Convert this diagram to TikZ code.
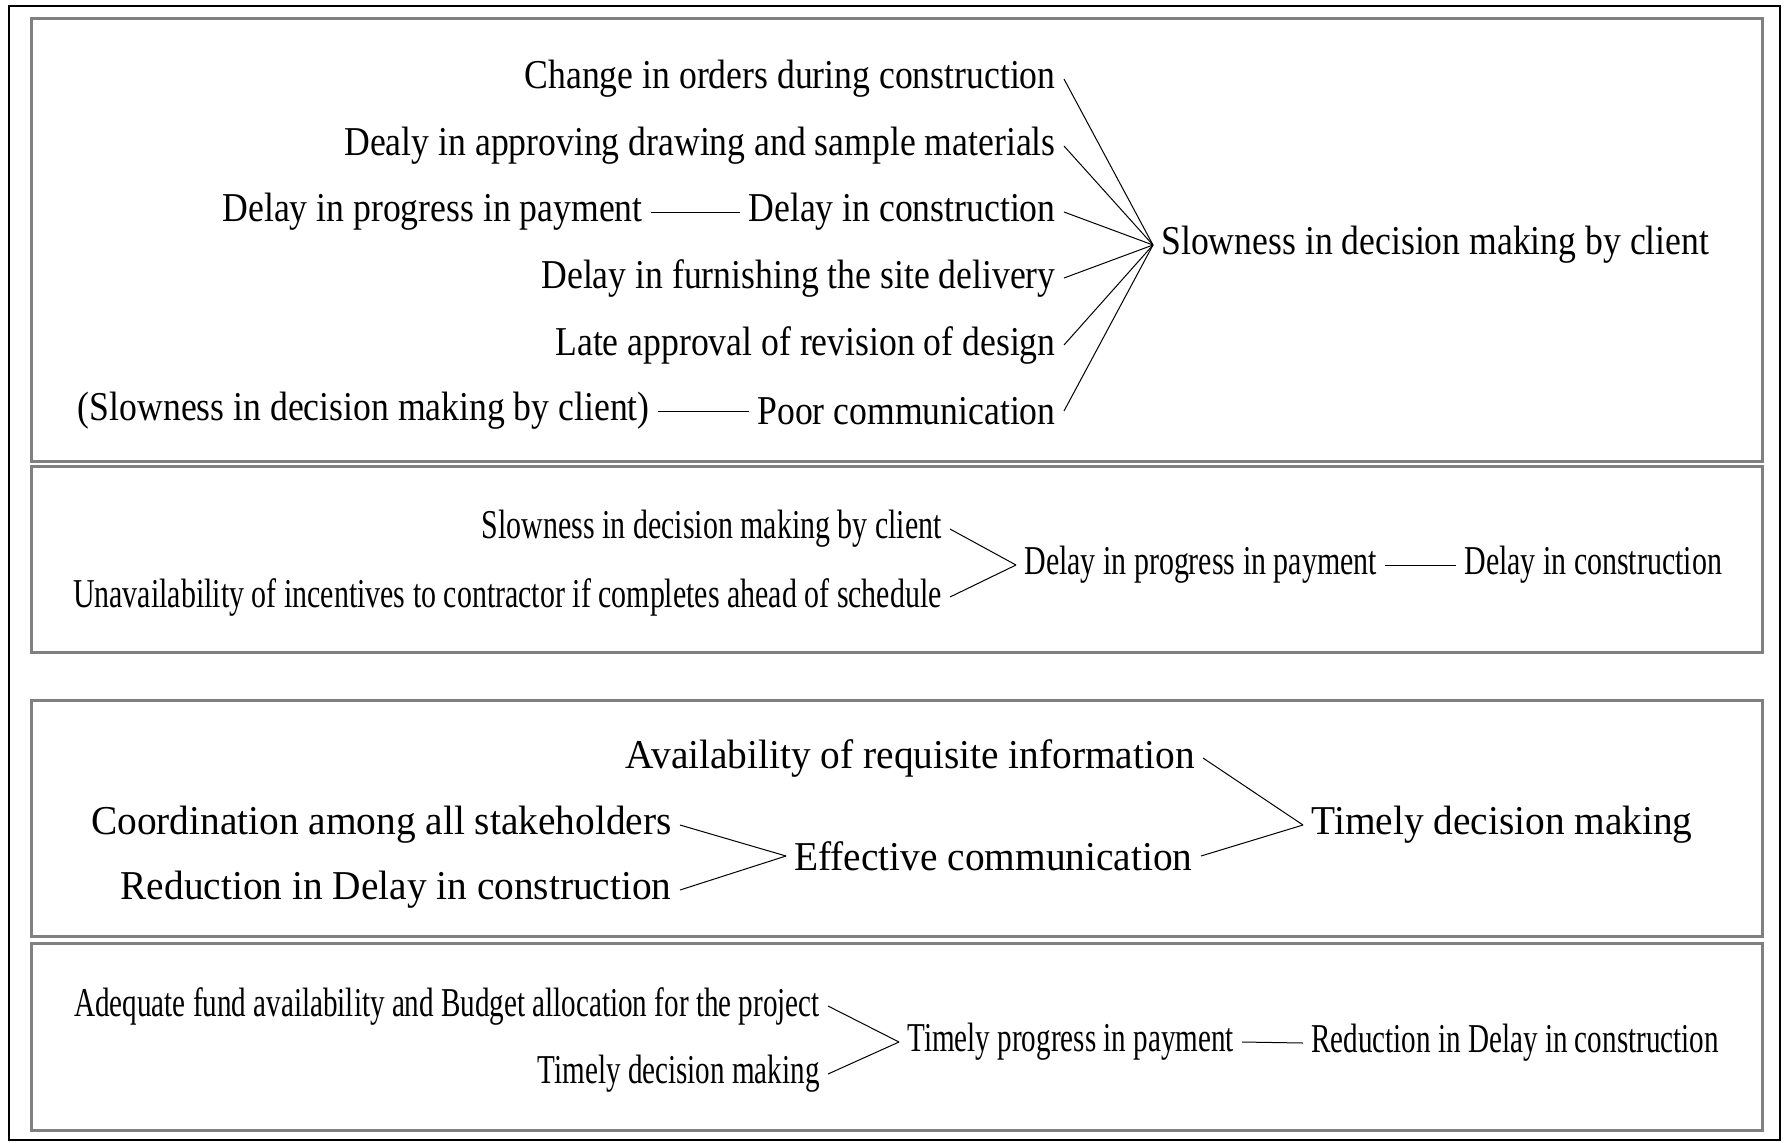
\documentclass[tikz,border=0pt]{standalone}
\usepackage{fontspec}
\setmainfont{Liberation Serif}
\newfontfamily\panelA[FakeStretch=0.87]{Liberation Serif}
\newfontfamily\panelB[FakeStretch=0.73]{Liberation Serif}
\newfontfamily\panelC[FakeStretch=0.96]{Liberation Serif}
\newfontfamily\panelD[FakeStretch=0.71]{Liberation Serif}
\newcommand\panelsize{\fontsize{20.5}{24}\selectfont}

\tikzset{
  cause/.style={anchor=east,inner xsep=4pt,inner ysep=1pt},
  effect/.style={anchor=west,inner xsep=4pt,inner ysep=1pt},
  panel/.style={draw=gray,line width=1.5pt},
  link/.style={draw=black,line width=0.5pt},
}

\begin{document}
\begin{tikzpicture}[x=0.5pt,y=-0.5pt]
	\useasboundingbox (0,0) rectangle (1784,1142);
	% outer frame and panels
	\draw [line width=1pt] (9,6) rectangle (1780,1140);
	\draw [panel] (31,18) rectangle (1762,461);
	\draw [panel] (31,466) rectangle (1762,652);
	\draw [panel] (31,700) rectangle (1762,936);
	\draw [panel] (31,943) rectangle (1762,1130);
	
	% panel 1
	\begin{scope}[nodes={font=\panelA\panelsize}]
	\node [cause] (chg) at (1064,79) {Change in orders during construction};
	\node [cause] (dly) at (1064,146) {Dealy in approving drawing and sample materials};
	\node [cause] (dic) at (1064,212) {Delay in construction};
	\node [cause] (dfs) at (1064,278) {Delay in furnishing the site delivery};
	\node [cause] (lad) at (1064,345) {Late approval of revision of design};
	\node [cause] (pc) at (1064,411) {Poor communication};
	\node [cause] (dpp) at (651,212) {Delay in progress in payment};
	\node [cause] (sdmp) at (658,411) {(Slowness in decision making by client)};
	\node [effect] (sdc) at (1153,245) {Slowness in decision making by client};
	\end{scope}
	\foreach \n in {chg,dly,dic,dfs,lad,pc}
		\draw [link] (\n.east) -- (sdc.west);
	\draw [link] (dpp.east) -- (dic.west);
	\draw [link] (sdmp.east) -- (pc.west);
	
	% panel 2
	\begin{scope}[nodes={font=\panelB\panelsize}]
	\node [cause] (sdc2) at (950,529) {Slowness in decision making by client};
	\node [cause] (uni) at (950,597) {Unavailability of incentives to contractor if completes ahead of schedule};
	\node [effect] (dpp2) at (1016,565) {Delay in progress in payment};
	\node [effect] (dic2) at (1456,565) {Delay in construction};
	\end{scope}
	\draw [link] (sdc2.east) -- (dpp2.west);
	\draw [link] (uni.east) -- (dpp2.west);
	\draw [link] (dpp2.east) -- (dic2.west);
	
	% panel 3
	\begin{scope}[nodes={font=\panelC\panelsize}]
	\node [cause] (avl) at (1203,758) {Availability of requisite information};
	\node [cause] (coo) at (680,825) {Coordination among all stakeholders};
	\node [cause] (rdc) at (680,890) {Reduction in Delay in construction};
	\node [effect] (eff) at (786,856) {Effective communication};
	\node [effect] (tdm) at (1303,825) {Timely decision making};
	\end{scope}
	\draw [link] (coo.east) -- (eff.west);
	\draw [link] (rdc.east) -- (eff.west);
	\draw [link] (avl.east) -- (tdm.west);
	\draw [link] (eff.east) -- (tdm.west);
	
	% panel 4
	\begin{scope}[nodes={font=\panelD\panelsize}]
	\node [cause] (adq) at (828,1006) {Adequate fund availability and Budget allocation for the project};
	\node [cause] (tdm4) at (828,1074) {Timely decision making};
	\node [effect] (tpp) at (899,1042) {Timely progress in payment};
	\node [effect] (rdc4) at (1303,1043) {Reduction in Delay in construction};
	\end{scope}
	\draw [link] (adq.east) -- (tpp.west);
	\draw [link] (tdm4.east) -- (tpp.west);
	\draw [link] (tpp.east) -- (rdc4.west);
\end{tikzpicture}
\end{document}
